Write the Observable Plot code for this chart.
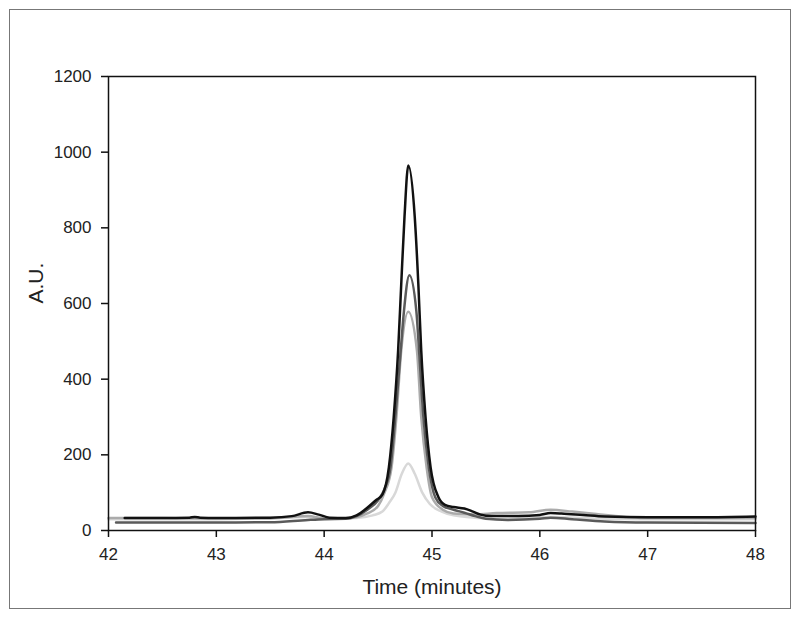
<!DOCTYPE html>
<html>
<head>
<meta charset="utf-8">
<script src="https://cdn.jsdelivr.net/npm/d3@7"></script>
<script src="https://cdn.jsdelivr.net/npm/@observablehq/plot@0.6"></script>
<style>
  html, body { margin: 0; padding: 0; background: #fff; }
  #wrap { position: relative; width: 800px; height: 618px; }
  #border { position: absolute; left: 9px; top: 9px; width: 780px; height: 598px; border: 1.5px solid #777; pointer-events: none; }
  svg { font-family: "Liberation Sans", Arial, sans-serif; }
</style>
</head>
<body>
<div id="wrap"><div id="border"></div></div>
<script>
// Tick values
const xTicks = [42, 43, 44, 45, 46, 47, 48];
const yTicks = [0, 200, 400, 600, 800, 1000, 1200];

// Series: [time (minutes), A.U.]
const blackSeries = [
  [42.15, 33], [42.5, 33], [42.75, 34], [42.8, 36], [42.85, 34], [43.0, 33], [43.5, 34], [43.7, 38], [43.85, 48],
  [43.95, 42], [44.05, 34], [44.2, 33], [44.3, 40], [44.4, 60], [44.48, 80], [44.54, 95],
  [44.6, 167], [44.645, 300], [44.686, 476], [44.715, 653], [44.745, 829], [44.78, 965],
  [44.84, 829], [44.873, 653], [44.90, 476], [44.94, 300], [44.987, 167], [45.06, 88],
  [45.12, 68], [45.2, 62], [45.3, 58], [45.38, 50], [45.45, 42], [45.55, 38], [45.8, 38],
  [46.0, 41], [46.1, 46], [46.2, 45], [46.4, 41], [46.6, 37], [47.0, 35], [47.5, 35], [48.0, 37]
];
const darkSeries = [
  [42.07, 21], [42.5, 21], [43.0, 21], [43.5, 22], [43.85, 28], [44.0, 30], [44.2, 31], [44.3, 38],
  [44.4, 55], [44.5, 80], [44.56, 110], [44.615, 167], [44.66, 300], [44.71, 476], [44.74, 580],
  [44.79, 675], [44.855, 580], [44.88, 476], [44.92, 300], [44.97, 167], [45.03, 88], [45.1, 65],
  [45.2, 55], [45.3, 47], [45.4, 38], [45.5, 31], [45.7, 28], [46.0, 31], [46.1, 34], [46.3, 30],
  [46.6, 24], [47.0, 21], [48.0, 20]
];
const lightSeries = [
  [42.0, 33], [42.5, 33], [43.0, 32], [43.5, 32], [43.85, 38], [44.0, 32], [44.2, 32], [44.3, 35],
  [44.4, 45], [44.5, 65], [44.56, 100], [44.625, 167], [44.67, 300], [44.715, 476], [44.78, 578],
  [44.86, 476], [44.9, 300], [44.95, 167], [45.0, 88], [45.1, 55], [45.2, 45], [45.4, 42],
  [45.6, 46], [45.9, 48], [46.1, 55], [46.3, 50], [46.5, 44], [46.8, 36], [47.0, 33], [48.0, 33]
];
const paleSeries = [
  [42.0, 30], [43.0, 30], [43.85, 36], [44.0, 31], [44.3, 33], [44.45, 40], [44.54, 50], [44.6, 72],
  [44.66, 100], [44.72, 150], [44.78, 177], [44.84, 150], [44.91, 100], [44.98, 70], [45.09, 50],
  [45.2, 40], [45.4, 34], [45.6, 30], [46.1, 36], [46.5, 32], [47.0, 30], [48.0, 30]
];

const seriesNames = ["pale", "light", "dark", "black"];
const seriesColors = ["#d8d8d8", "#ababab", "#5a5a5a", "#111111"];
const seriesData = [paleSeries, lightSeries, darkSeries, blackSeries];

const rows = [];
seriesData.forEach((s, i) => s.forEach(([t, v]) => rows.push({series: seriesNames[i], t, v})));

const chart = Plot.plot({
  width: 800,
  height: 618,
  marginLeft: 108,
  marginRight: 45,
  marginTop: 76,
  marginBottom: 88,
  style: {fontFamily: "Liberation Sans, Arial, sans-serif", color: "#222", background: "transparent"},
  x: {domain: [42, 48]},
  y: {domain: [0, 1200]},
  color: {domain: seriesNames, range: seriesColors},
  marks: [
    Plot.line(rows, {x: "t", y: "v", z: "series", stroke: "series", strokeWidth: 2.5, curve: "monotone-x"}),
    Plot.frame({stroke: "#111", strokeWidth: 1.5}),
    Plot.axisY({ticks: yTicks, tickFormat: "d", tickSize: 7, tickPadding: 10, fontSize: 17, label: null, strokeWidth: 1.5, stroke: "#111"}),
    Plot.axisX({ticks: xTicks, tickFormat: "d", tickSize: 7, tickPadding: 10, fontSize: 17, label: null, strokeWidth: 1.5, stroke: "#111"}),
    Plot.text(["Time (minutes)"], {frameAnchor: "bottom", dy: 63, fontSize: 21, fill: "#222"}),
    Plot.text(["A.U."], {frameAnchor: "left", dx: -72, rotate: -90, fontSize: 21, fill: "#222"})
  ]
});
document.getElementById("wrap").appendChild(chart);
chart.style.position = "absolute";
chart.style.left = "0";
chart.style.top = "0";
</script>
</body>
</html>
